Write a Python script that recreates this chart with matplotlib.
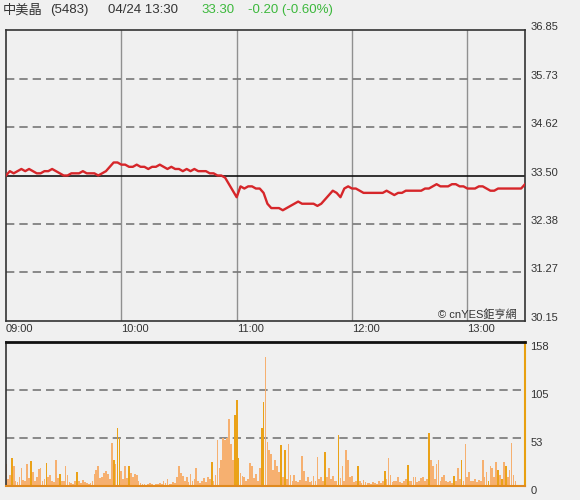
import numpy as np
import matplotlib
matplotlib.use("Agg")
import matplotlib.pyplot as plt

plt.rcParams['font.family'] = ['Liberation Sans', 'Noto Sans CJK TC', 'DejaVu Sans']

# minutes after 09:00, price sampled every 2 minutes
price_minutes = list(range(0, 271, 2))
price = [
    33.50, 33.60, 33.55, 33.60, 33.65, 33.60, 33.65, 33.60, 33.55, 33.55,
    33.60, 33.60, 33.65, 33.60, 33.55, 33.50, 33.50, 33.55, 33.55, 33.55,
    33.60, 33.55, 33.55, 33.55, 33.50, 33.55, 33.60, 33.70, 33.80, 33.80,
    33.75, 33.75, 33.70, 33.70, 33.75, 33.70, 33.70, 33.65, 33.70, 33.70,
    33.75, 33.70, 33.65, 33.70, 33.65, 33.65, 33.60, 33.65, 33.60, 33.65,
    33.60, 33.60, 33.60, 33.55, 33.55, 33.50, 33.50, 33.45, 33.30, 33.15,
    33.00, 33.25, 33.20, 33.25, 33.25, 33.20, 33.20, 33.10, 32.85, 32.75,
    32.75, 32.75, 32.70, 32.75, 32.80, 32.85, 32.90, 32.85, 32.85, 32.85,
    32.85, 32.80, 32.85, 32.95, 33.05, 33.15, 33.10, 33.00, 33.20, 33.25,
    33.20, 33.20, 33.15, 33.10, 33.10, 33.10, 33.10, 33.10, 33.10, 33.15,
    33.10, 33.05, 33.10, 33.10, 33.15, 33.15, 33.15, 33.15, 33.15, 33.20,
    33.20, 33.25, 33.30, 33.25, 33.25, 33.25, 33.30, 33.30, 33.25, 33.25,
    33.20, 33.20, 33.20, 33.25, 33.25, 33.20, 33.15, 33.15, 33.20, 33.20,
    33.20, 33.20, 33.20, 33.20, 33.20, 33.30,
]

# volume per minute, 09:00 .. 13:30
volume = [
    24, 8, 12, 31, 22, 6, 4, 10, 20, 7,
    5, 24, 9, 27, 15, 6, 10, 19, 20, 5,
    8, 25, 10, 12, 6, 4, 28, 9, 13, 5,
    6, 22, 12, 4, 3, 2, 6, 15, 5, 3,
    7, 4, 3, 2, 3, 5, 13, 18, 22, 9,
    10, 14, 16, 13, 8, 47, 28, 24, 64, 53,
    17, 8, 22, 9, 22, 14, 10, 13, 12, 6,
    3, 2, 2, 1, 2, 3, 2, 1, 2, 2,
    3, 2, 5, 3, 8, 2, 2, 4, 3, 10,
    22, 14, 11, 5, 10, 4, 13, 6, 8, 20,
    5, 3, 6, 9, 4, 10, 8, 26, 6, 12,
    50, 20, 28, 53, 50, 53, 73, 46, 28, 78,
    94, 31, 14, 11, 10, 6, 8, 25, 22, 9,
    13, 5, 20, 64, 92, 142, 48, 39, 35, 18,
    28, 22, 15, 45, 10, 39, 8, 46, 12, 6,
    12, 5, 4, 7, 33, 17, 6, 10, 4, 5,
    11, 6, 32, 8, 10, 6, 37, 10, 20, 8,
    11, 5, 6, 56, 9, 22, 6, 40, 28, 10,
    11, 4, 6, 22, 5, 3, 7, 4, 3, 3,
    2, 4, 3, 2, 5, 3, 6, 17, 8, 31,
    12, 4, 6, 5, 10, 4, 3, 6, 8, 23,
    5, 6, 10, 10, 4, 6, 9, 10, 6, 8,
    58, 28, 22, 8, 24, 28, 6, 10, 12, 5,
    4, 6, 3, 11, 5, 20, 8, 28, 5, 46,
    10, 15, 6, 5, 8, 4, 7, 6, 28, 10,
    15, 6, 22, 20, 10, 26, 18, 12, 8, 26,
    22, 10, 18, 47, 12, 6, 0, 0, 0, 0,
    158,
]
up_tick = [3, 13, 21, 28, 37, 56, 58, 59, 64, 107, 119, 120, 121, 133, 134,
           143, 145, 166, 173, 183, 197, 209, 220, 233, 237, 251, 256, 258, 260, 270]

time_ticks = [0, 60, 120, 180, 240]
time_labels = ["09:00", "10:00", "11:00", "12:00", "13:00"]
prev_close = 33.50
price_ticks = [30.15, 31.27, 32.38, 33.50, 34.62, 35.73, 36.85]
vol_ticks = [0, 53, 105, 158]

bg = "#f0f0f0"
fig = plt.figure(figsize=(5.8, 5.0), dpi=100, facecolor=bg)

# header
hy = 1 - 10/500
fig.text(3/580, hy, "中美晶", fontsize=9.5, color="#333333", va="center")
fig.text(50/580, hy, "(5483)", fontsize=9.5, color="#333333", va="center")
fig.text(108/580, hy, "04/24 13:30", fontsize=9.5, color="#333333", va="center")
fig.text(201/580, hy, "33.30", fontsize=9.5, color="#3cb83c", va="center")
fig.text(248/580, hy, "-0.20 (-0.60%)", fontsize=9.5, color="#3cb83c", va="center")

# price panel
ax = fig.add_axes([6/580, 1 - 321/500, 519/580, 291/500], facecolor=bg)
ax.set_xlim(0, 270)
ax.set_ylim(30.15, 36.85)
for t in time_ticks[1:]:
    ax.axvline(t, color="#909090", lw=1, zorder=1)
for p in price_ticks[1:-1]:
    if p == prev_close:
        ax.axhline(p, color="#111111", lw=1.2, zorder=2)
    else:
        ax.axhline(p, color="#777777", lw=1.2, ls=(0, (5, 3)), zorder=1)
ax.plot(price_minutes, price, color="#d6262a", lw=1.7, zorder=3)
ax.set_xticks(time_ticks)
ax.set_xticklabels(time_labels)
ax.set_yticks(price_ticks)
ax.set_yticklabels([f"{p:.2f}" for p in price_ticks])
ax.yaxis.tick_right()
ax.tick_params(axis="both", length=0, labelsize=8, colors="#333333")
ax.tick_params(axis="x", pad=2)
ax.tick_params(axis="y", pad=4)
for lab in ax.get_xticklabels():
    lab.set_ha("left")
for lab in ax.get_yticklabels():
    lab.set_va("baseline")
for s in ax.spines.values():
    s.set_color("#333333")
    s.set_linewidth(1.2)
ax.text(0.985, 0.005, "© cnYES鉅亨網", transform=ax.transAxes, ha="right", va="bottom",
        fontsize=8, color="#333333")

# volume panel
axv = fig.add_axes([6/580, 1 - 486/500, 519/580, 144/500], facecolor=bg)
axv.set_xlim(0, 270)
axv.set_ylim(0, 158)
for v in vol_ticks[1:-1]:
    axv.axhline(v, color="#777777", lw=1.2, ls=(0, (5, 3)), zorder=1)
minutes = np.arange(len(volume))
colors = ["#eaa218" if m in up_tick else "#f6b070" for m in minutes]
axv.bar(minutes, volume, width=0.9, color=colors, linewidth=0,
        antialiased=False, zorder=2)
axv.set_xticks([])
axv.set_yticks(vol_ticks)
axv.yaxis.tick_right()
axv.tick_params(axis="y", length=0, labelsize=8, colors="#333333", pad=4)
for lab in axv.get_yticklabels():
    lab.set_va("top")
axv.spines["top"].set_color("#111111")
axv.spines["top"].set_linewidth(2)
axv.spines["left"].set_color("#333333")
axv.spines["left"].set_linewidth(1.2)
axv.spines["right"].set_color("#e8a010")
axv.spines["right"].set_linewidth(1.5)
axv.spines["bottom"].set_color("#e08a20")
axv.spines["bottom"].set_linewidth(1.5)

fig.savefig("out.png", dpi=100, facecolor=bg)
